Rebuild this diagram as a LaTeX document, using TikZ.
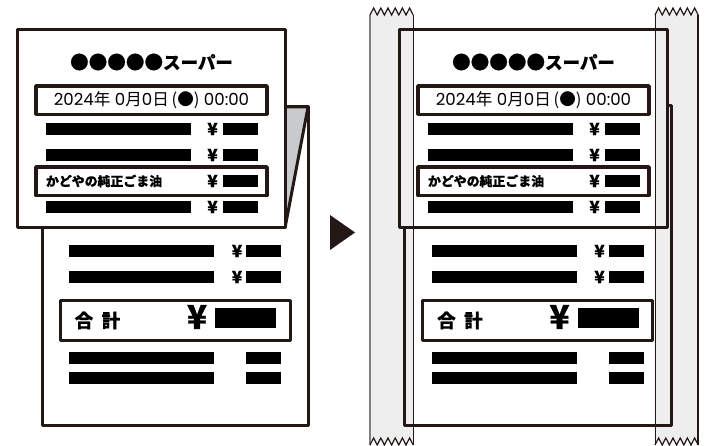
\documentclass[tikz,border=0pt]{standalone}
\usepackage{fontspec}
\setmainfont{Noto Sans CJK JP}
\newfontfamily\jpr{Noto Sans CJK JP}
\newfontfamily\jpbase[BoldFeatures={FakeBold=0.5}]{Noto Sans CJK JP}
\newcommand{\jpb}{\jpbase\bfseries}
\newfontfamily\pop{Poppins}
\definecolor{ink}{HTML}{231815}
\definecolor{tape}{HTML}{EEEEEE}
\definecolor{fold}{HTML}{C9CACC}
\tikzset{
  frame/.style={draw=ink,line width=3pt,line join=round},
  hl/.style={draw=ink,line width=3.4pt,line join=round,fill=white},
  bar/.style={fill=black,draw=none},
  txt/.style={inner sep=0pt,outer sep=0pt,text=black},
  yenS/.style={txt,font=\jpb\fontsize{17}{17}\selectfont},
  yenL/.style={txt,font=\jpb\fontsize{33}{33}\selectfont},
  tapeedge/.style={draw=ink,line width=1pt},
  zigedge/.style={draw=ink,line width=1.2pt,line join=miter},
  tapefill/.style={fill=tape,draw=none},
}
% front slip contents; #1 = name prefix
\newcommand{\frontslip}[1]{%
  \node[txt,font=\jpb\fontsize{18.6}{18.6}\selectfont] (#1title) at (151.5,62) {●●●●●\fontsize{17.5}{17.5}\selectfont スーパー};
  \draw[hl] (36,86) rectangle (267,114.3);
  \node[txt] (#1date) at (151.5,100) {\pop\fontsize{16.6}{16.6}\selectfont 2024\jpr 年\pop{} 0\jpr 月\pop 0\jpr 日\,\jpr (●)\pop{} 00:00};
  \draw[hl] (36,167) rectangle (267,195.5);
  \node[txt,anchor=west,font=\jpb\fontsize{12.9}{12.9}\selectfont] (#1item) at (46,181) {かどやの純正ごま油};
  \foreach \y in {123,149,201} \fill[bar] (46,\y) rectangle (191,\y+12);
  \foreach \y in {123,149,175,201} {
    \fill[bar] (223,\y) rectangle (258,\y+12);
    \node[yenS] at (212.5,\y+6) {¥};
  }
}
% back slip contents
\newcommand{\backslip}[1]{%
  \foreach \y in {245,271,352,372} {
    \fill[bar] (69,\y) rectangle (214,\y+12);
    \fill[bar] (246,\y) rectangle (281,\y+12);
  }
  \foreach \y in {245,271} \node[yenS] at (237,\y+6) {¥};
  \draw[hl,line width=3pt] (60,300) rectangle (290,340);
  \node[txt,font=\jpb\fontsize{18.5}{18.5}\selectfont] (#1goukei) at (84,320.5) {合};
  \node[txt,font=\jpb\fontsize{18.5}{18.5}\selectfont] (#1kei) at (111,320.5) {計};
  \node[yenL] (#1yen) at (197,317) {¥};
  \fill[bar] (215,308) rectangle (276,328);
}
\newcommand{\zigtop}[1]{(#1,15) -- ++(3.6,-7) -- ++(3.6,7) -- ++(3.6,-7) -- ++(3.6,7) -- ++(3.6,-7) -- ++(3.6,7) -- ++(3.6,-7) -- ++(3.6,7) -- ++(3.6,-7) -- ++(3.6,7) -- ++(3.6,-7) -- ++(3.6,7)}
\newcommand{\zigbot}[1]{(#1,445) -- ++(3.6,-7) -- ++(3.6,7) -- ++(3.6,-7) -- ++(3.6,7) -- ++(3.6,-7) -- ++(3.6,7) -- ++(3.6,-7) -- ++(3.6,7) -- ++(3.6,-7) -- ++(3.6,7) -- ++(3.6,-7) -- ++(3.6,7)}
\begin{document}
\begin{tikzpicture}[x=1pt,y=-1pt]
\useasboundingbox (0,0) rectangle (706,446);
% ---- left receipt
\draw[frame,fill=white] (42,228) -- (42,425) -- (308,425) -- (308,107) -- (285,107);
\fill[fold] (285,108) -- (306,108) -- (285,226) -- cycle;
\draw[frame] (285,107) -- (308,107) -- (285,228);
\backslip{l}
\draw[frame,fill=white] (17.5,30) rectangle (285,228);
\frontslip{l}
% ---- arrow
\fill[ink] (330,215) -- (355,232.5) -- (330,250) -- cycle;
% ---- right receipt
\begin{scope}[xshift=362.5pt]
  \backslip{rb}
\end{scope}
% tape
\fill[tapefill] \zigtop{370} -- (413,445) -- ++(-3.6,-7) -- ++(-3.6,7) -- ++(-3.6,-7) -- ++(-3.6,7) -- ++(-3.6,-7) -- ++(-3.6,7) -- ++(-3.6,-7) -- ++(-3.6,7) -- ++(-3.6,-7) -- ++(-3.6,7) -- ++(-3.6,-7) -- ++(-3.6,7) -- cycle;
\fill[tapefill] \zigtop{655} -- (698,445) -- ++(-3.6,-7) -- ++(-3.6,7) -- ++(-3.6,-7) -- ++(-3.6,7) -- ++(-3.6,-7) -- ++(-3.6,7) -- ++(-3.6,-7) -- ++(-3.6,7) -- ++(-3.6,-7) -- ++(-3.6,7) -- ++(-3.6,-7) -- ++(-3.6,7) -- cycle;
\begin{scope}[xshift=382pt]
  \draw[frame] (17.5,30) rectangle (285,228);
  \frontslip{rf}
\end{scope}
\begin{scope}[xshift=362pt]
  \draw[frame] (42,228) -- (42,425) -- (309,425) -- (309,106) -- (305,106);
\end{scope}
\draw[draw=gray,line width=1.3pt] (370,15) -- (370,445);
\draw[tapeedge] (413,15) -- (413,445);
\draw[tapeedge] (655,15) -- (655,445);
\draw[draw=ink,line width=1.5pt] (698,15) -- (698,445);
\draw[zigedge] \zigtop{370};
\draw[zigedge] \zigtop{655};
\draw[zigedge] \zigbot{370};
\draw[zigedge] \zigbot{655};
\end{tikzpicture}
\end{document}
